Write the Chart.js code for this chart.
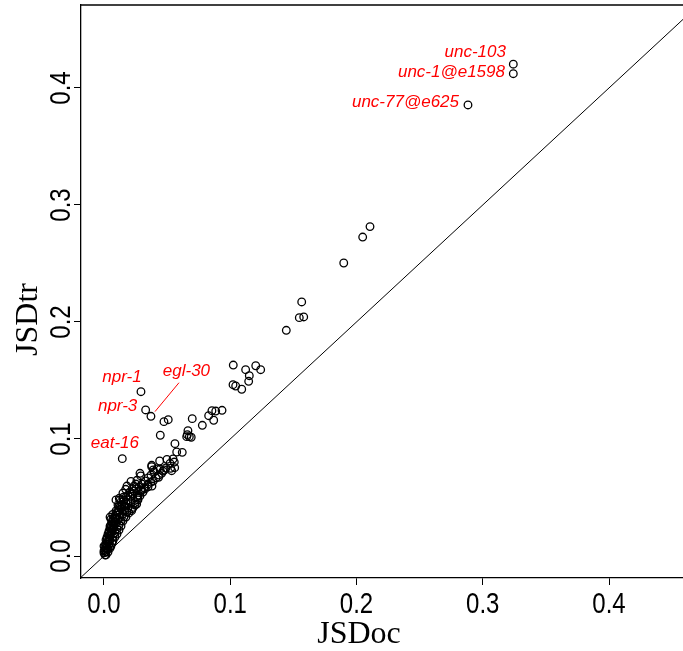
<!DOCTYPE html>
<html>
<head>
<meta charset="utf-8">
<script src="https://cdn.jsdelivr.net/npm/chart.js@4/dist/chart.umd.min.js"></script>
<style>
html,body{margin:0;padding:0;background:#fff;}
#wrap{width:683px;height:651px;}
</style>
</head>
<body>
<div id="wrap"><canvas id="c" width="683" height="651"></canvas></div>
<script>
// ---- data ----
const JSDOC = [
0.3242,0.3242,0.2883,0.2107,0.2049,0.1899,0.1566,0.1547,0.1582,0.1444,
0.1024,0.1122,0.1202,0.1241,0.1151,0.1146,0.1022,0.1043,0.1091,0.0293,
0.0330,0.0372,0.0145,0.0475,0.0509,0.0446,0.0699,0.0779,0.0829,0.0855,
0.0885,0.0935,0.0869,0.0665,0.0660,0.0676,0.0691,0.0655,0.0562,0.0576,
0.0620,0.0441,0.0499,0.0547,0.0523,0.0557,0.0378,0.0444,0.0528,0.0560,
0.0536,0.0478,0.0457,0.0433,0.0390,0.0380,0.0349,0.0317,0.0291,0.0269,
0.0259,0.0224,0.0214,0.0172,0.0261,0.0285,0.0291,0.0378,0.0390,0.0069,
0.0087,0.0055,0.0048,0.0121,0.0153,0.0140,0.0153,0.0166,0.0272,0.0299,
0.0232,0.0246,0.0219,0.0180,
0.0000,0.0008,0.0016,0.0000,0.0024,0.0032,0.0016,0.0040,0.0048,0.0032,
0.0055,0.0063,0.0048,0.0071,0.0079,0.0063,0.0087,0.0095,0.0103,0.0111,
0.0119,0.0127,0.0143,0.0135,0.0158,0.0174,0.0190,0.0206,0.0230,0.0261,
0.0214,0.0190,0.0166,0.0150,0.0127,0.0111,0.0079,0.0063,0.0048,0.0040,
0.0024,0.0008,0.0000,0.0032,0.0055,0.0071,0.0087,0.0103,0.0119,0.0135,
0.0150,0.0174,0.0198,0.0222,0.0246,0.0269,0.0285,0.0309,0.0325,0.0349,
0.0372,0.0412,0.0436,0.0467,0.0491,0.0238,0.0253,0.0016,
0.0016,0.0008,0.0024,0.0040,0.0055,0.0071,0.0087,0.0103,0.0119,0.0135,
0.0158,0.0174,0.0190,0.0206,0.0222,0.0238,0.0253,0.0277,0.0301,0.0325,
0.0349,0.0372,0.0396,0.0420,0.0182,0.0158,0.0135,0.0119,0.0103,0.0087,
0.0071,0.0063,0.0048,0.0032,0.0016,0.0024,0.0040,0.0055,0.0071,0.0095,
0.0111,0.0127,0.0150,0.0182,0.0095,0.0048
];
const JSDTR = [
0.4203,0.4122,0.3855,0.2815,0.2726,0.2504,0.2171,0.2037,0.2043,0.1929,
0.1632,0.1592,0.1626,0.1592,0.1541,0.1493,0.1464,0.1453,0.1425,0.1404,
0.1248,0.1194,0.0832,0.1148,0.1165,0.1032,0.1174,0.1117,0.1199,0.1242,
0.1239,0.1245,0.1160,0.1071,0.1037,0.1020,0.1015,0.1020,0.0960,0.0889,
0.0886,0.0812,0.0826,0.0829,0.0792,0.0803,0.0763,0.0741,0.0750,0.0755,
0.0729,0.0735,0.0707,0.0673,0.0641,0.0598,0.0592,0.0584,0.0558,0.0493,
0.0444,0.0575,0.0638,0.0570,0.0647,0.0707,0.0684,0.0775,0.0735,0.0356,
0.0336,0.0316,0.0256,0.0493,0.0502,0.0421,0.0464,0.0430,0.0521,0.0564,
0.0416,0.0456,0.0387,0.0379,
0.0026,0.0051,0.0068,0.0085,0.0094,0.0120,0.0137,0.0145,0.0171,0.0188,
0.0197,0.0222,0.0239,0.0248,0.0274,0.0291,0.0299,0.0325,0.0350,0.0376,
0.0393,0.0419,0.0436,0.0462,0.0479,0.0504,0.0521,0.0547,0.0530,0.0504,
0.0453,0.0410,0.0385,0.0359,0.0333,0.0308,0.0239,0.0205,0.0137,0.0103,
0.0060,0.0009,0.0043,0.0034,0.0085,0.0128,0.0162,0.0188,0.0222,0.0256,
0.0299,0.0333,0.0368,0.0402,0.0436,0.0479,0.0513,0.0547,0.0573,0.0615,
0.0632,0.0667,0.0692,0.0726,0.0752,0.0598,0.0615,0.0034,
0.0009,0.0085,0.0128,0.0179,0.0231,0.0282,0.0325,0.0376,0.0427,0.0402,
0.0427,0.0453,0.0479,0.0504,0.0530,0.0556,0.0573,0.0590,0.0615,0.0641,
0.0667,0.0692,0.0718,0.0744,0.0376,0.0333,0.0299,0.0265,0.0231,0.0197,
0.0162,0.0111,0.0068,0.0060,0.0103,0.0162,0.0214,0.0265,0.0316,0.0385,
0.0436,0.0479,0.0538,0.0598,0.0479,0.0333
];
const TICKS = [0, 0.1, 0.2, 0.3, 0.4];
const TICK_LABELS = ['0.0', '0.1', '0.2', '0.3', '0.4'];
const X_RANGE = [-0.0182, 0.4586];
const Y_RANGE = [-0.0188, 0.4709];
const X_TITLE = 'JSDoc';
const Y_TITLE = 'JSDtr';
// gene labels: text, anchor (right end, middle) in data units
const GENES   = ['unc-103', 'unc-1@e1598', 'unc-77@e625', 'npr-1', 'npr-3', 'egl-30', 'eat-16'];
const GENE_X  = [0.3184, 0.3176, 0.2812, 0.0299, 0.0264, 0.0840, 0.0277];
const GENE_Y  = [0.4308, 0.4134, 0.3874, 0.1524, 0.1276, 0.1575, 0.0963];
// connector line for egl-30
const LINK_X = [0.0594, 0.0404];
const LINK_Y = [0.1481, 0.1234];

const points = JSDOC.map((x, i) => ({x: x, y: JSDTR[i]}));

const TICK_FONT = '30px "Liberation Sans", Arial, sans-serif';
const NARROW = 0.8;

const overlay = {
  id: 'overlay',
  afterDraw(chart) {
    const ctx = chart.ctx, a = chart.chartArea;
    const xs = chart.scales.x, ys = chart.scales.y;
    ctx.save();
    // top border
    ctx.strokeStyle = '#000'; ctx.lineWidth = 1.3;
    ctx.beginPath(); ctx.moveTo(a.left, a.top); ctx.lineTo(chart.width, a.top); ctx.stroke();
    // tick labels (condensed)
    ctx.fillStyle = '#000';
    ctx.font = TICK_FONT;
    ctx.textAlign = 'center'; ctx.textBaseline = 'middle';
    TICKS.forEach((v, i) => {
      ctx.save();
      ctx.translate(xs.getPixelForValue(v), a.bottom + 27);
      ctx.scale(NARROW, 1);
      ctx.fillText(TICK_LABELS[i], 0, 0);
      ctx.restore();
      ctx.save();
      ctx.translate(a.left - 19, ys.getPixelForValue(v));
      ctx.rotate(-Math.PI / 2);
      ctx.scale(NARROW, 1);
      ctx.fillText(TICK_LABELS[i], 0, 0);
      ctx.restore();
    });
    // axis titles
    ctx.font = '32px "Liberation Serif", "Times New Roman", serif';
    ctx.textBaseline = 'alphabetic';
    ctx.fillText(X_TITLE, 359, a.bottom + 65);
    ctx.save();
    ctx.translate(37, (a.top + a.bottom) / 2 + 28);
    ctx.rotate(-Math.PI / 2);
    ctx.fillText(Y_TITLE, 0, 0);
    ctx.restore();
    // gene labels
    ctx.fillStyle = '#ff0000';
    ctx.font = 'italic 17px "Liberation Sans", Arial, sans-serif';
    ctx.textAlign = 'right'; ctx.textBaseline = 'middle';
    GENES.forEach((g, i) => {
      ctx.fillText(g, xs.getPixelForValue(GENE_X[i]), ys.getPixelForValue(GENE_Y[i]));
    });
    ctx.strokeStyle = '#ff0000'; ctx.lineWidth = 1;
    ctx.beginPath();
    ctx.moveTo(xs.getPixelForValue(LINK_X[0]), ys.getPixelForValue(LINK_Y[0]));
    ctx.lineTo(xs.getPixelForValue(LINK_X[1]), ys.getPixelForValue(LINK_Y[1]));
    ctx.stroke();
    ctx.restore();
  }
};

new Chart(document.getElementById('c'), {
  type: 'scatter',
  data: {
    datasets: [
      {
        type: 'line',
        data: [{x: -0.05, y: -0.05}, {x: 0.6, y: 0.6}],
        borderColor: '#000', borderWidth: 1, pointRadius: 0, fill: false
      },
      {
        data: points,
        pointStyle: 'circle',
        pointRadius: 3.8,
        borderWidth: 1.3,
        borderColor: '#000',
        backgroundColor: 'rgba(0,0,0,0)'
      }
    ]
  },
  options: {
    responsive: false,
    animation: false,
    devicePixelRatio: 1,
    layout: {autoPadding: false, padding: {top: 5, right: 0, left: 0, bottom: 0}},
    plugins: {legend: {display: false}, tooltip: {enabled: false}},
    events: [],
    scales: {
      x: {
        type: 'linear', min: X_RANGE[0], max: X_RANGE[1],
        afterBuildTicks: s => { s.ticks = TICKS.map(v => ({value: v})); },
        afterFit: s => { s.height = 73; s.paddingLeft = 0; s.paddingRight = 0; },
        grid: {drawOnChartArea: false, drawTicks: true, tickLength: 7, tickColor: '#000', tickWidth: 1},
        border: {display: true, color: '#000', width: 1.3},
        ticks: {display: false}
      },
      y: {
        type: 'linear', min: Y_RANGE[0], max: Y_RANGE[1],
        afterBuildTicks: s => { s.ticks = TICKS.map(v => ({value: v})); },
        afterFit: s => { s.width = 81; s.paddingTop = 0; s.paddingBottom = 0; },
        grid: {drawOnChartArea: false, drawTicks: true, tickLength: 7, tickColor: '#000', tickWidth: 1},
        border: {display: true, color: '#000', width: 1.3},
        ticks: {display: false}
      }
    }
  },
  plugins: [overlay]
});
</script>
</body>
</html>
